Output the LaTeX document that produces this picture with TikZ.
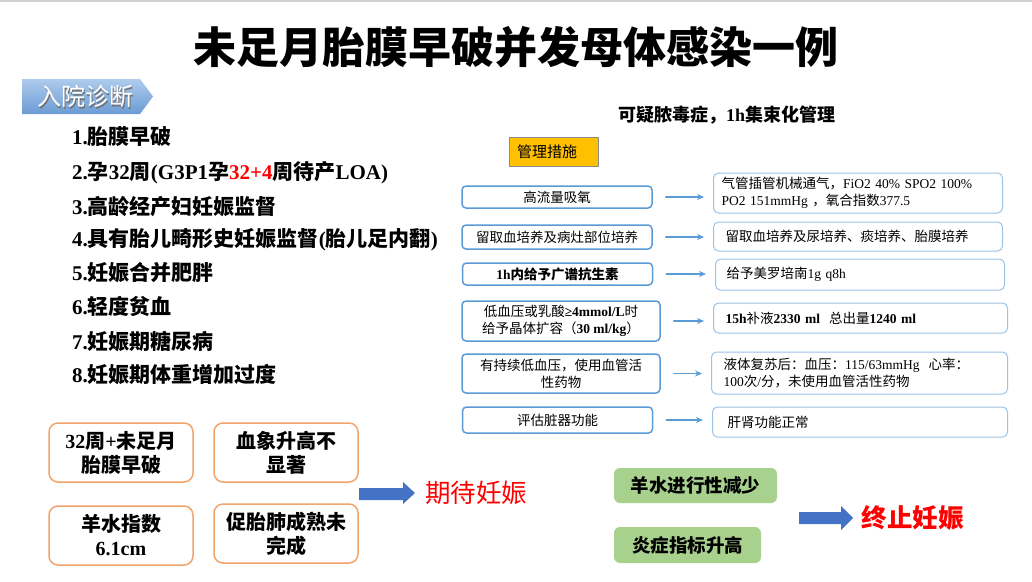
\documentclass[tikz,border=0pt]{standalone}
\usepackage{fontspec}
\setmainfont{Liberation Serif}
\newfontfamily\cjk{Noto Sans CJK SC}
\usetikzlibrary{arrows.meta}
\definecolor{boxblue}{HTML}{5B9BD5}
\definecolor{paleblue}{HTML}{9DC3E6}
\definecolor{arrowblue}{HTML}{4472C4}
\definecolor{tagtop}{HTML}{AECBEC}
\definecolor{tagbottom}{HTML}{6B9BD4}
\definecolor{mgmtgold}{HTML}{FFC000}
\definecolor{noteorange}{HTML}{F2A46C}
\definecolor{notegreen}{HTML}{A9D18E}
\newcommand{\en}[1]{{\rmfamily#1}}

\begin{document}
\begin{tikzpicture}[
			x=1pt, y=-1pt,
			line cap=round,
			line join=round,
			every node/.style={font=\cjk},
			lbox/.style={draw=boxblue, line width=1.5pt, rounded corners=4pt, fill=white, inner sep=0pt,
				minimum width=190pt, minimum height=24pt, align=center, font=\cjk\fontsize{13.5}{17}\selectfont},
			rbox/.style={draw=paleblue, line width=1pt, rounded corners=5pt, fill=white, inner ysep=0pt,
				anchor=west, align=left, font=\cjk\fontsize{13.5}{17}\selectfont},
			flow/.style={draw=boxblue, line width=1.2pt, -{Stealth[length=7pt,width=6pt]}, shorten <=13pt, shorten >=9pt},
			note/.style={draw=noteorange, line width=1.5pt, rounded corners=9pt, minimum width=144pt, minimum height=59pt,
				inner sep=0pt, align=center, font=\cjk\bfseries\fontsize{20}{24}\selectfont},
			cue/.style={fill=notegreen, rounded corners=6pt, minimum height=35pt, inner sep=0pt,
				font=\cjk\bfseries\fontsize{18.5}{22}\selectfont},
			item/.style={anchor=west, inner sep=0pt, font=\cjk\bfseries\fontsize{21}{25}\selectfont},
			verdict/.style={text=red, inner sep=0pt, font=\cjk\fontsize{25.5}{30}\selectfont}
			]
			% Page
			\fill[white] (0,0) rectangle (1032,581);
			\useasboundingbox (0,0) rectangle (1032,581);
			\draw[gray!35, line width=3pt] (0,0) -- (1032,0);
			
			% Title
			\node[font=\cjk\bfseries\fontsize{43}{48}\selectfont] (title) at (515.5,47) {未足月胎膜早破并发母体感染一例};
			
			% Tag
			\shade[top color=tagtop, bottom color=tagbottom] (22,79) -- (140,79) -- (153,96.5) -- (140,114) -- (22,114) -- cycle;
			\node[text=black!55, font=\cjk\fontsize{24}{28}\selectfont] (tagshade) at (86.5,98) {入院诊断};
			\node[text=white, font=\cjk\fontsize{24}{28}\selectfont] (tag) at (85,96.5) {入院诊断};
			
			% Diagnoses
			\node[item] (d1) at (72,137) {\en{1.}胎膜早破};
			\node[item] (d2) at (72,173) {\en{2.}孕\en{32}周\en{(G3P1}孕\textcolor{red}{\en{32+4}}周待产\en{LOA)}};
			\node[item] (d3) at (72,207) {\en{3.}高龄经产妇妊娠监督};
			\node[item] (d4) at (72,240) {\en{4.}具有胎儿畸形史妊娠监督\en{(}胎儿足内翻\en{)}};
			\node[item] (d5) at (72,273) {\en{5.}妊娠合并肥胖};
			\node[item] (d6) at (72,307) {\en{6.}轻度贫血};
			\node[item] (d7) at (72,342) {\en{7.}妊娠期糖尿病};
			\node[item] (d8) at (72,375) {\en{8.}妊娠期体重增加过度};
			
			% Bundle heading
			\node[font=\cjk\bfseries\fontsize{18}{22}\selectfont] (bundle) at (726.5,115) {可疑脓毒症，\en{1h}集束化管理};
			\node[draw=black!45, line width=0.8pt, fill=mgmtgold, minimum height=29pt, inner xsep=8pt, inner ysep=0pt,
				text width=73pt, align=left, font=\cjk\fontsize{15}{18}\selectfont] (mgmt) at (553.5,151.5) {管理措施};
			
			% Measures, left column
			\node[lbox, minimum height=22pt] (l1) at (557,197) {高流量吸氧};
			\node[lbox] (l2) at (557,237) {留取血培养及病灶部位培养};
			\node[lbox, minimum height=22pt, font=\cjk\bfseries\fontsize{13.5}{17}\selectfont] (l3) at (557.5,274) {\en{1h}内给予广谱抗生素};
			\node[lbox, minimum width=198pt, minimum height=40pt] (l4) at (561,321)
				{低血压或乳酸\en{\bfseries ≥4mmol/L}时\\给予晶体扩容（\en{\bfseries 30 ml/kg}）};
			\node[lbox, minimum width=198pt, minimum height=39pt] (l5) at (561,373.5) {有持续低血压，使用血管活\\性药物};
			\node[lbox, minimum height=26pt] (l6) at (557.5,420) {评估脏器功能};
			
			% Results, right column
			\node[rbox, inner xsep=8pt, text width=273pt, minimum height=40pt] (r1) at (713,193)
				{气管插管机械通气，\en{FiO2 40\% SPO2 100\%}\\\en{PO2 151mmHg} ，氧合指数\en{377.5}};
			\node[rbox, inner xsep=12pt, text width=265pt, minimum height=29pt] (r2) at (713,236.5)
				{留取血培养及尿培养、痰培养、胎膜培养};
			\node[rbox, inner xsep=11pt, text width=267pt, minimum height=31pt] (r3) at (715,274.5)
				{给予美罗培南\en{1g q8h}};
			\node[rbox, inner xsep=12pt, text width=270pt, minimum height=30pt] (r4) at (713,318)
				{\en{\bfseries 15h}补液\en{\bfseries 2330 ml}\ \ 总出量\en{\bfseries 1240 ml}};
			\node[rbox, inner xsep=12pt, text width=272pt, minimum height=42pt] (r5) at (711,373)
				{液体复苏后：血压：\en{115/63mmHg}\ \ 心率：\\\en{100}次\en{/}分，未使用血管活性药物};
			\node[rbox, inner xsep=15pt, text width=265pt, minimum height=30pt] (r6) at (712,422)
				{肝肾功能正常};
			
			% Arrows
			\foreach \i in {1,...,6}
				\draw[flow] (l\i.east) -- (l\i.east -| r\i.west);
			
			% Notes, bottom left
			\node[note] (n1) at (121,452.5) {\en{32}周\en{+}未足月\\胎膜早破};
			\node[note] (n2) at (286,452.5) {血象升高不\\显著};
			\node[note] (n3) at (121,535.5) {羊水指数\\\en{6.1cm}};
			\node[note] (n4) at (286,533.5) {促胎肺成熟未\\完成};
			
			\fill[arrowblue] (359,488) -- (403,488) -- (403,482) -- (415,493) -- (403,504) -- (403,500) -- (359,500) -- cycle;
			\node[verdict] (wait) at (476,493) {期待妊娠};
			
			% Cues, bottom right
			\node[cue, minimum width=163pt] (c1) at (695.5,485.5) {羊水进行性减少};
			\node[cue, minimum width=147pt, minimum height=36pt] (c2) at (687.5,545) {炎症指标升高};
			
			\fill[arrowblue] (799,512) -- (841,512) -- (841,506) -- (853,518) -- (841,530) -- (841,524) -- (799,524) -- cycle;
			\node[verdict, font=\cjk\bfseries\fontsize{25.5}{30}\selectfont] (stop) at (912.5,518) {终止妊娠};
		\end{tikzpicture}
\end{document}
